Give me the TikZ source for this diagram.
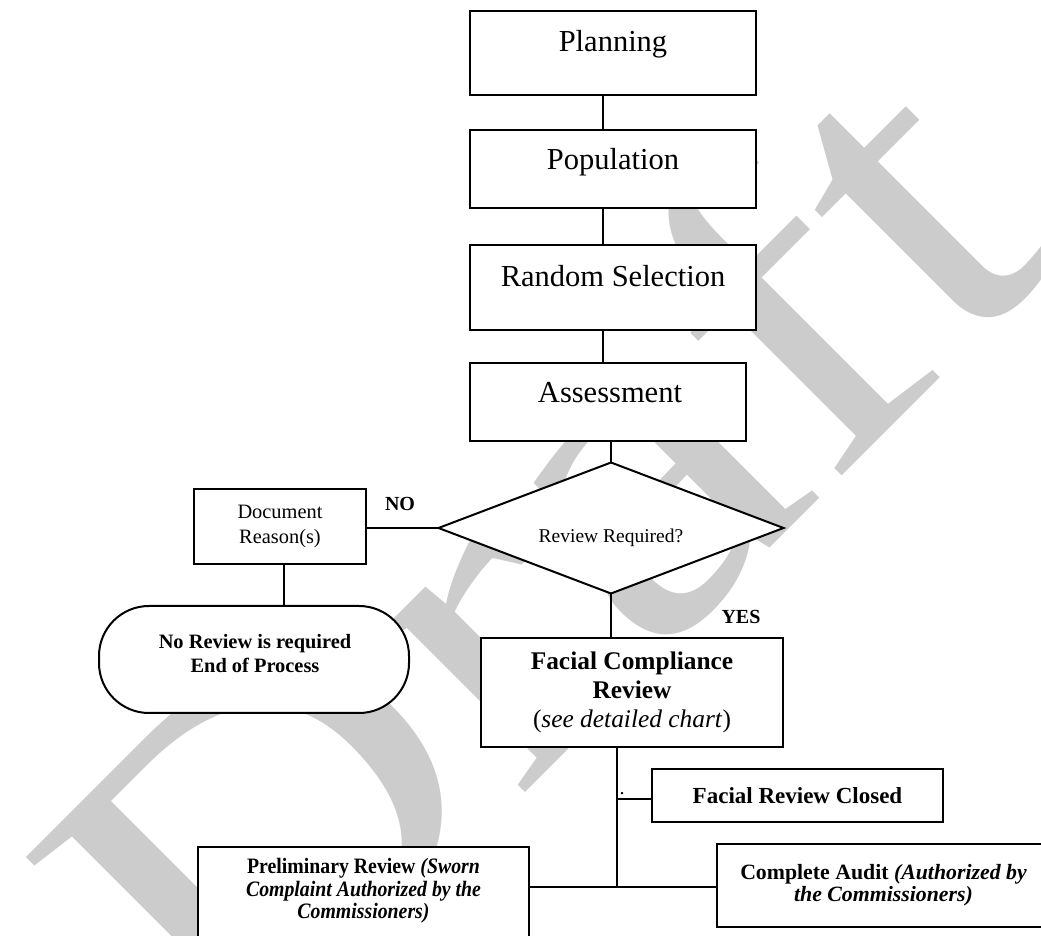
\documentclass[tikz,border=0pt]{standalone}
\usepackage{fontspec}
\setmainfont{Liberation Serif}
\newfontfamily\narrowserif[FakeStretch=0.9]{Liberation Serif}
\usetikzlibrary{shapes.geometric}
\begin{document}
\begin{tikzpicture}[x=0.5pt, y=-0.5pt,
  every node/.style={inner sep=0pt, outer sep=0pt},
  stepbox/.style={draw, line width=1pt, fill=white},
  link/.style={draw, line width=1pt},
  bigtxt/.style={font=\fontsize{15.25}{18}\selectfont, anchor=base},
  smalltxt/.style={font=\fontsize{10.2}{12.5}\selectfont, align=center},
  tag/.style={font=\bfseries\fontsize{10}{12}\selectfont, anchor=base},
  draftmark/.style={transform shape, anchor=base west, text=black!20,
    font=\fontsize{47}{47}\selectfont}]
\useasboundingbox (0,0) rectangle (1041,936);
\clip (0,0) rectangle (1041,936);

% background watermark
\begin{scope}[shift={(232,1086)}, rotate=45, xscale=5.957, yscale=5.0]
  \node[draftmark] (draft) at (0,0) {Draft};
\end{scope}

% main column
\node[stepbox, minimum width=143pt, minimum height=42pt] (plan) at (613,53) {};
\node[stepbox, minimum width=143pt, minimum height=39pt] (pop) at (613,169) {};
\node[stepbox, minimum width=143pt, minimum height=42.5pt] (rand) at (613,287.5) {};
\node[stepbox, minimum width=138pt, minimum height=39pt] (asmt) at (608,402) {};
\node[stepbox, shape=diamond, minimum width=172.5pt, minimum height=65.5pt] (dia) at (611,528) {};

\node[bigtxt] (planT) at (613,52) {Planning};
\node[bigtxt] (popT) at (613,170) {Population};
\node[bigtxt] (randT) at (613,287) {Random Selection};
\node[bigtxt] (asmtT) at (610,403) {Assessment};
\node[font=\fontsize{9.75}{12}\selectfont, anchor=base] (diaT) at (611,542.5) {Review Required?};

% "no" branch
\node[stepbox, smalltxt, minimum width=86pt, minimum height=37.5pt] (doc) at (280,526.5) {Document\\Reason(s)};
\node[stepbox, rounded corners=25pt, minimum width=155pt, minimum height=53.5pt] (endp) at (254,659.5) {};
\node[font=\bfseries\fontsize{10.2}{11.6}\selectfont, align=center] (endT) at (255,653.5) {No Review is required\\End of Process};

% "yes" branch
\node[stepbox, align=center, font=\fontsize{12.7}{14.5}\selectfont, minimum width=151pt, minimum height=54.5pt] (fcr) at (632,692.5)
  {\textbf{Facial Compliance}\\\textbf{Review}\\(\textit{see detailed chart})};
\node[stepbox, font=\bfseries\fontsize{11.5}{13}\selectfont, minimum width=145.5pt, minimum height=26.5pt] (frc) at (797.5,795.5) {Facial Review Closed};
\node[stepbox, minimum width=165.5pt, minimum height=66.5pt] (pr) at (363.5,913.5) {};
\node[align=center, font=\narrowserif\bfseries\fontsize{11}{11.2}\selectfont] (prT) at (363.5,891)
  {Preliminary Review \textit{(Sworn}\\\textit{Complaint Authorized by the}\\\textit{Commissioners)}};
\node[stepbox, align=center, font=\bfseries\fontsize{10.9}{11}\selectfont, minimum width=166.5pt, minimum height=41.5pt] (ca) at (883.5,885.5)
  {Complete Audit \textit{(Authorized by}\\\textit{the Commissioners)}};

\node[tag] (no) at (400,510.6) {NO};
\node[tag] (yes) at (741,623.6) {YES};
\node[font=\fontsize{10}{12}\selectfont, anchor=base] (dot) at (622,795) {.};

% connectors
\draw[link] ([xshift=-5pt]plan.south) -- ([xshift=-5pt]pop.north);
\draw[link] ([xshift=-5pt]pop.south) -- ([xshift=-5pt]rand.north);
\draw[link] ([xshift=-5pt]rand.south) -- ([xshift=-2.5pt]asmt.north);
\draw[link] (dia.north |- asmt.south) -- (dia.north);
\draw[link] (dia.west) -- (dia.west -| doc.east);
\draw[link] ([xshift=2pt]doc.south) -- ([xshift=2pt]doc.south |- endp.north);
\draw[link] (dia.south) -- (dia.south |- fcr.north);
\coordinate (j) at (617,887);
\draw[link] (j |- fcr.south) -- (j);
\coordinate (k) at ([yshift=-1.75pt]frc.west);
\draw[link] (k) -- (k -| j);
\draw[link, line width=1.3pt] (j -| pr.east) -- (j -| ca.west);
\end{tikzpicture}
\end{document}
